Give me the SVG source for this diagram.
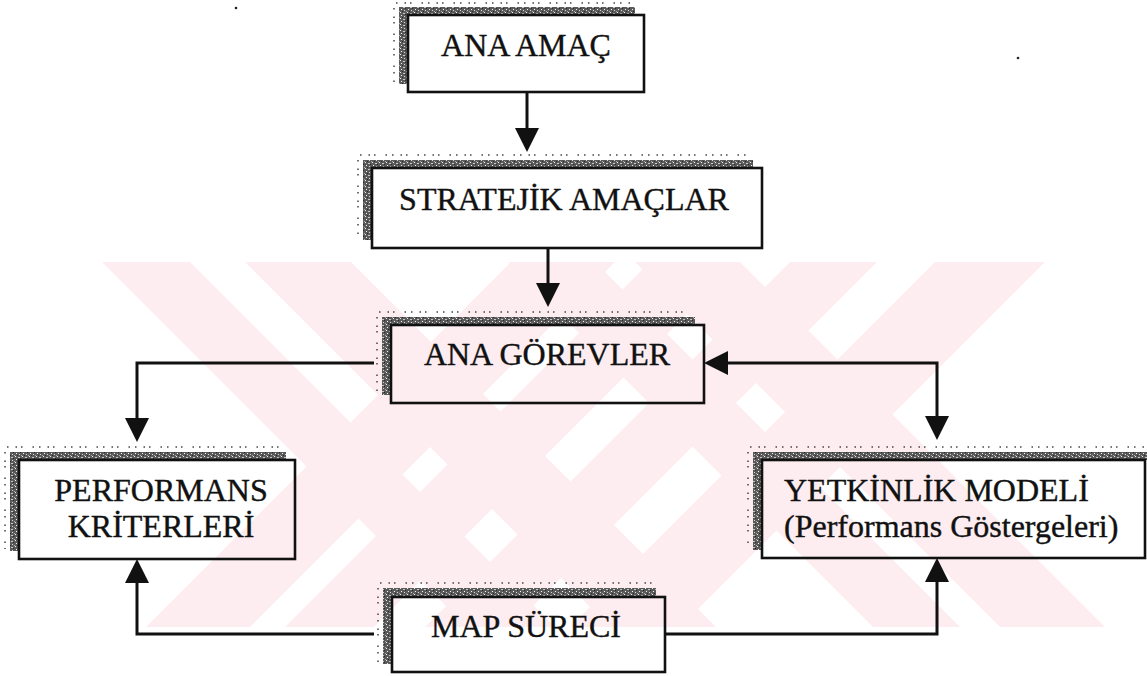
<svg xmlns="http://www.w3.org/2000/svg" width="1147" height="676" viewBox="0 0 1147 676">
  <style>
    .box { fill: none; stroke: #111; stroke-width: 2.6; }
    .shadow { fill: url(#stipple); }
    .dots { fill: none; stroke: #444; stroke-width: 1.5; stroke-dasharray: 1.5 7 1.5 4 1.5 10 1.5 5; }
    .label { font-family: "Liberation Serif", "Times New Roman", serif; font-size: 32px; fill: #111; stroke: #111; stroke-width: 0.4; }
    .mid { text-anchor: middle; }
    .link { fill: none; stroke: #111; stroke-width: 3; }
    .wm { fill: #fdedf0; }
  </style>
  <defs>
    <pattern id="stipple" width="7" height="6" patternUnits="userSpaceOnUse">
      <rect width="7" height="6" fill="#5a5a5a"/>
      <rect x="1" y="0" width="1" height="1" fill="#f0f0f0"/>
      <rect x="4" y="1" width="2" height="1" fill="#c8c8c8"/>
      <rect x="2" y="3" width="1" height="1" fill="#f5f5f5"/>
      <rect x="5" y="4" width="1" height="1" fill="#d8d8d8"/>
      <rect x="0" y="5" width="1" height="1" fill="#aaaaaa"/>
      <rect x="3" y="5" width="1" height="1" fill="#2a2a2a"/>
      <rect x="6" y="2" width="1" height="1" fill="#2a2a2a"/>
    </pattern>
    <marker id="head" viewBox="0 0 24 26" markerWidth="24" markerHeight="26" refX="16" refY="13" orient="auto-start-reverse" markerUnits="userSpaceOnUse">
      <path d="M0,1 L24,13 L0,25 Z" fill="#111"/>
    </marker>
    <clipPath id="wmclip">
      <rect x="0" y="262" width="1147" height="365"/>
    </clipPath>
  </defs>

  <rect width="1147" height="676" fill="#fff"/>

  <!-- background emblem: diagonal bands -->
  <g id="emblem" clip-path="url(#wmclip)" class="wm">
    <path d="M102,262 L190,262 L555,627 L467,627 Z"/>
    <path d="M245,262 L351,262 L716,627 L610,627 Z"/>
    <path d="M511,262 L615,262 L250,627 L146,627 Z"/>
    <path d="M650,262 L739,262 L374,627 L285,627 Z"/>
    <path d="M790,262 L877,262 L512,627 L425,627 Z"/>
    <path d="M935,262 L1045,262 L680,627 L570,627 Z"/>
    <path d="M508,262 L595,262 L960,627 L873,627 Z"/>
    <path d="M635,262 L740,262 L1105,627 L1000,627 Z"/>
  </g>

  <!-- specks -->
  <circle cx="236" cy="8" r="1.3" fill="#222"/>
  <circle cx="1018" cy="58" r="1.3" fill="#222"/>

  <g id="connectors">
    <path class="link" d="M527,92 V144" marker-end="url(#head)"/>
    <path class="link" d="M548,248 V299" marker-end="url(#head)"/>
    <path class="link" d="M374,363 H137 V434" marker-end="url(#head)"/>
    <path class="link" d="M712,363 H937 V432" marker-start="url(#head)" marker-end="url(#head)"/>
    <path class="link" d="M374,634 H137 V567" marker-end="url(#head)"/>
    <path class="link" d="M665,634 H937 V566" marker-end="url(#head)"/>
  </g>

  <g id="ana-amac">
    <path class="shadow" d="M399,7 H635 V15 H408 V84 H399 Z"/>
    <path class="dots" d="M396,3 H632 M394,8 V82"/>
    <rect class="box" x="408" y="15" width="236" height="77"/>
    <text class="label mid" x="526" y="56">ANA AMAÇ</text>
  </g>

  <g id="stratejik-amaclar">
    <path class="shadow" d="M363,160 H753 V168 H372 V240 H363 Z"/>
    <path class="dots" d="M360,155 H750 M358,160 V238"/>
    <rect class="box" x="372" y="168" width="390" height="80"/>
    <text class="label mid" x="564" y="210">STRATEJİK AMAÇLAR</text>
  </g>

  <g id="ana-gorevler">
    <path class="shadow" d="M382,317 H695 V325 H391 V395 H382 Z"/>
    <path class="dots" d="M379,312 H692 M377,317 V393"/>
    <rect class="box" x="391" y="325" width="313" height="78"/>
    <text class="label mid" x="547" y="365">ANA GÖREVLER</text>
  </g>

  <g id="performans-kriterleri">
    <path class="shadow" d="M10,452 H286 V460 H19 V551 H10 Z"/>
    <path class="dots" d="M7,447 H283 M5,452 V549"/>
    <rect class="box" x="19" y="460" width="276" height="99"/>
    <text class="label mid" x="161" y="501">PERFORMANS</text>
    <text class="label mid" x="161" y="537">KRİTERLERİ</text>
  </g>

  <g id="yetkinlik-modeli">
    <path class="shadow" d="M753,452 H1147 V460 H762 V550 H753 Z"/>
    <path class="dots" d="M750,447 H1147 M748,452 V548"/>
    <rect class="box" x="762" y="460" width="383" height="98"/>
    <text class="label" x="784" y="501">YETKİNLİK MODELİ</text>
    <text class="label" x="784" y="537">(Performans Göstergeleri)</text>
  </g>

  <g id="map-sureci">
    <path class="shadow" d="M383,588 H656 V597 H392 V664 H383 Z"/>
    <path class="dots" d="M380,583 H653 M378,588 V662"/>
    <rect class="box" x="392" y="597" width="273" height="75"/>
    <text class="label mid" x="526" y="637">MAP SÜRECİ</text>
  </g>
</svg>
